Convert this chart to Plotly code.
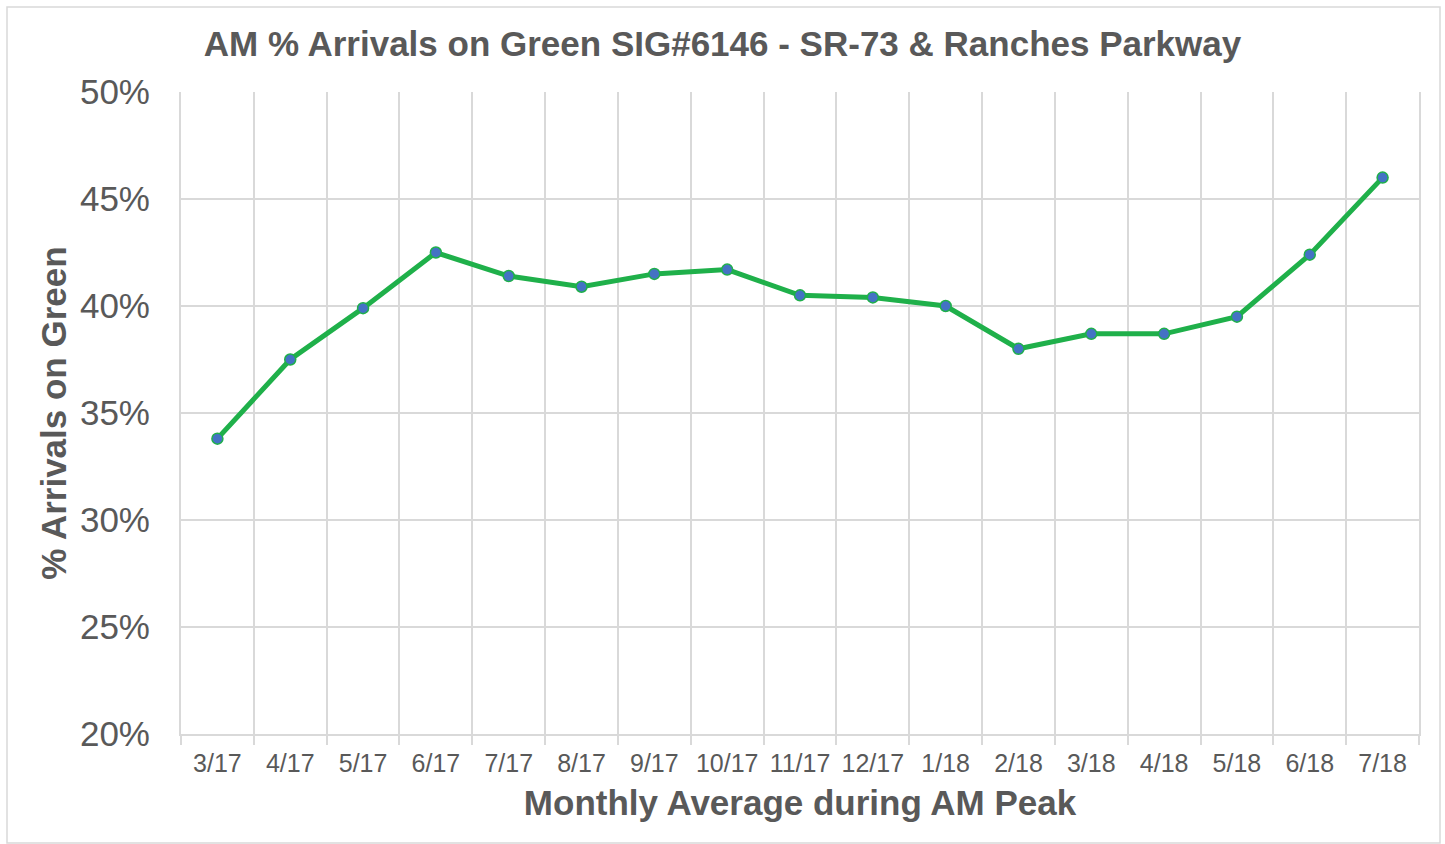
import plotly.graph_objects as go

months = ["3/17", "4/17", "5/17", "6/17", "7/17", "8/17", "9/17", "10/17", "11/17",
          "12/17", "1/18", "2/18", "3/18", "4/18", "5/18", "6/18", "7/18"]
arrivals_on_green = [0.338, 0.375, 0.399, 0.425, 0.414, 0.409, 0.415, 0.417, 0.405,
                     0.404, 0.400, 0.380, 0.387, 0.387, 0.395, 0.424, 0.460]
y_ticks = [0.20, 0.25, 0.30, 0.35, 0.40, 0.45, 0.50]

FONT = "Liberation Sans, Arial, sans-serif"
GREY = "#595959"
GRID = "#d9d9d9"

fig = go.Figure()
fig.add_trace(go.Scatter(
    x=months, y=arrivals_on_green, mode="lines+markers",
    line=dict(color="#1fb04a", width=5),
    marker=dict(color="#4472c4", size=11, line=dict(color="#1fb04a", width=1.5)),
    showlegend=False,
))

fig.update_layout(
    width=1445, height=844,
    margin=dict(l=181, r=26, t=92, b=110, autoexpand=False),
    paper_bgcolor="white", plot_bgcolor="white",
    font=dict(family=FONT, color=GREY),
    title=dict(text="<b>AM % Arrivals on Green SIG#6146 - SR-73 & Ranches Parkway</b>",
               x=0.5, xanchor="center", xref="container", y=1 - 44 / 844, yref="container",
               yanchor="middle",
               font=dict(size=35, color=GREY, family=FONT)),
)
fig.update_xaxes(
    type="category", tickson="boundaries", showgrid=True, gridcolor=GRID, gridwidth=2,
    ticks="outside", ticklen=9, tickcolor=GRID, tickwidth=2,
    showline=True, linecolor=GRID, linewidth=2, mirror=False,
    tickfont=dict(size=25, color=GREY), ticklabelstandoff=6, tickangle=0,
    title=dict(text="<b>Monthly Average during AM Peak</b>", font=dict(size=35, color=GREY), standoff=14),
    range=[-0.5, len(months) - 0.5], automargin=False,
)
fig.update_yaxes(
    range=[0.20, 0.50], tickvals=y_ticks, tickformat=".0%",
    showgrid=True, gridcolor=GRID, gridwidth=2, zeroline=False,
    showline=True, linecolor=GRID, linewidth=2, mirror=True,
    tickfont=dict(size=35, color=GREY), ticklabelstandoff=22,
    title=dict(text="<b>% Arrivals on Green</b>", font=dict(size=35, color=GREY), standoff=3),
    automargin=False,
)
# outer chart border
fig.add_shape(type="rect", xref="paper", yref="paper",
              x0=(7 - 181) / 1238, x1=(1440 - 181) / 1238,
              y0=(734 - 843) / 642, y1=(734 - 7) / 642,
              line=dict(color=GRID, width=1.5), layer="below")

fig.write_html("out.html", config={"displayModeBar": False},
               post_script="document.body.style.margin='0';document.body.style.overflow='hidden';")
